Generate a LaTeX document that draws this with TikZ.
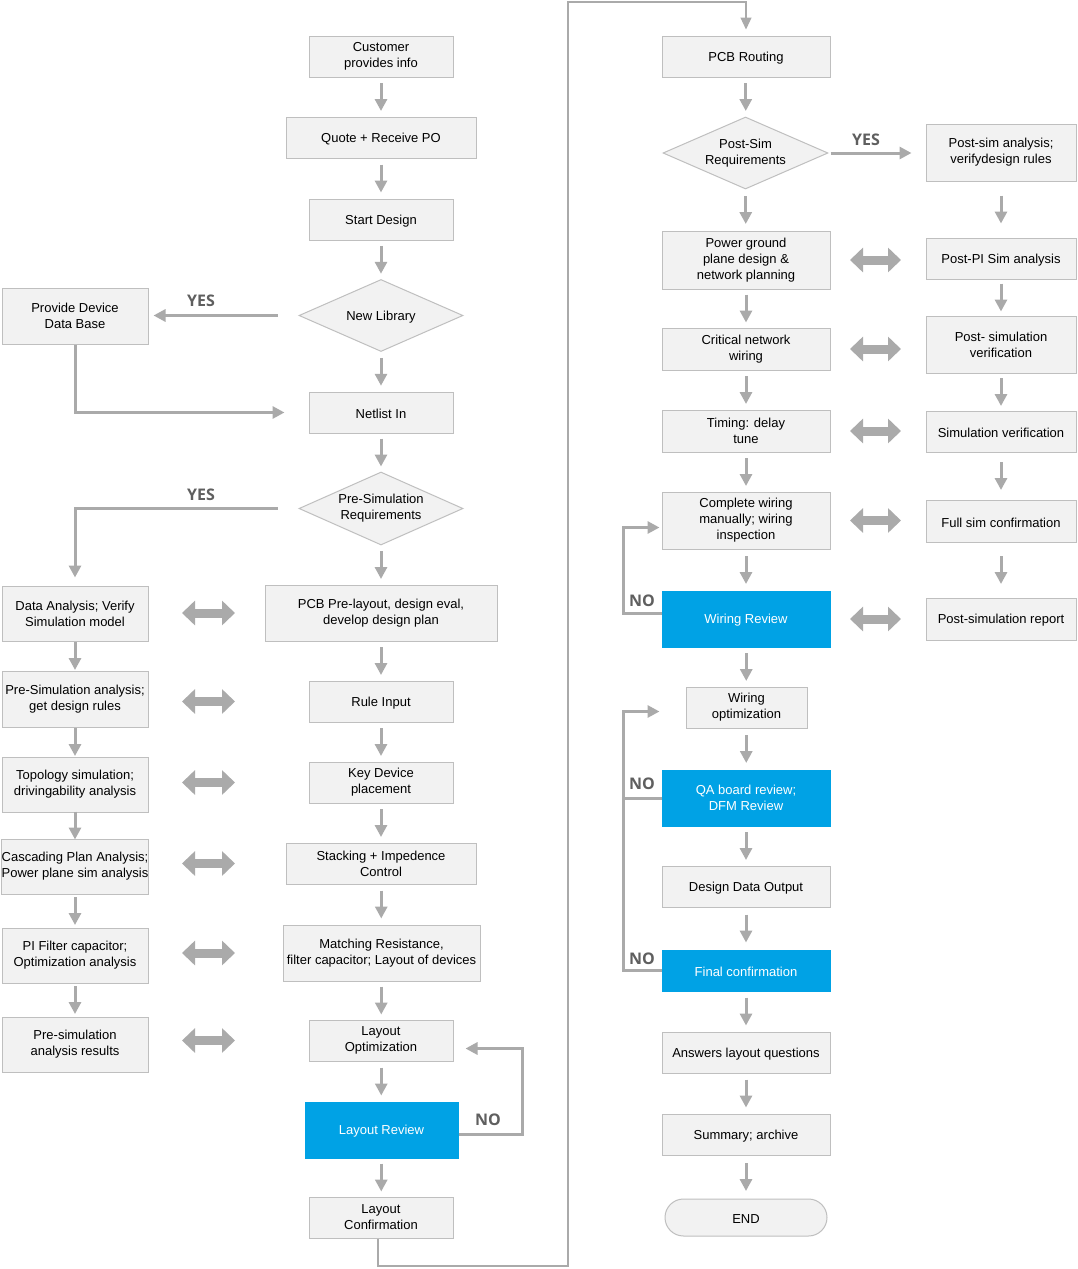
\documentclass[tikz,border=0pt]{standalone}
\usepackage{fontspec}
\setmainfont{Liberation Sans}
\newfontfamily\lblfont{Open Sans}
\usetikzlibrary{arrows.meta,shapes.geometric,calc}
\definecolor{boxfill}{HTML}{F2F2F2}
\definecolor{boxline}{HTML}{BFBFBF}
\definecolor{arrgray}{HTML}{AAAAAA}
\definecolor{blu}{HTML}{00A2E5}
\definecolor{lblgray}{HTML}{5F5F5F}
\tikzset{
 box/.style={draw=boxline, fill=boxfill, line width=1pt, inner sep=0pt, align=center,
   font=\fontsize{13}{16}\selectfont, text=black,
   execute at begin node={\rule{0pt}{12.5pt}}},
 bluebox/.style={box, fill=blu, draw=blu, text=white},
 dia/.style={box, shape=diamond, shape aspect=2.28, minimum width=164pt, minimum height=72pt},
 arr/.style={draw=arrgray, line width=3pt, -{Triangle[width=12pt,length=12pt]}},
 ln/.style={draw=arrgray, line width=3pt},
 dbl/.style={draw=arrgray, line width=9pt, {Triangle[width=24pt,length=13pt]}-{Triangle[width=24pt,length=13pt]}},
 thinarr/.style={draw=arrgray, line width=1.2pt, -{Triangle[width=11pt,length=12pt]}},
 lbl/.style={font=\lblfont\fontsize{16}{16}\bfseries\selectfont, text=lblgray, inner sep=0pt}
}
\newcommand{\vlink}[2]{\draw[arr] ($(#1.south)!.5!(#2.north)+(0,-14)$) -- ($(#1.south)!.5!(#2.north)+(0,14)$);}
\begin{document}
\begin{tikzpicture}[x=1pt,y=-1pt]
\useasboundingbox (0,0) rectangle (1077,1269);
\fill[white] (0,0) rectangle (1077,1269);
% ---------- centre-left column
\node[box, minimum width=144pt, minimum height=41pt] (cust) at (381,56.5) {Customer\\provides info};
\node[box, minimum width=190pt, minimum height=41pt] (quote) at (381,137.5) {Quote + Receive PO};
\node[box, minimum width=144pt, minimum height=41pt] (start) at (381,219.5) {Start Design};
\node[dia] (nl) at (381,315.5) {New Library};
\node[box, minimum width=144pt, minimum height=41pt] (net) at (381,412.5) {Netlist In};
\node[dia, minimum height=73pt] (ps) at (381,508.5) {Pre-Simulation\\Requirements};
\node[box, minimum width=232pt, minimum height=56pt] (pre) at (381,613) {PCB Pre-layout, design eval,\\develop design plan};
\node[box, minimum width=144pt, minimum height=41pt] (rule) at (381,701.5) {Rule Input};
\node[box, minimum width=144pt, minimum height=41pt] (key) at (381,782.5) {Key Device\\placement};
\node[box, minimum width=190pt, minimum height=41pt] (stack) at (381,863.5) {Stacking + Impedence\\Control};
\node[box, minimum width=197pt, minimum height=56pt] (match) at (381.5,953) {Matching Resistance,\\filter capacitor; Layout of devices};
\node[box, minimum width=144pt, minimum height=41pt] (lo) at (381,1040.5) {Layout\\Optimization};
\node[bluebox, minimum width=153pt, minimum height=56pt] (lr) at (381.5,1130) {Layout Review};
\node[box, minimum width=144pt, minimum height=41pt] (lc) at (381,1217.5) {Layout\\Confirmation};
% ---------- far-left column
\node[box, minimum width=146pt, minimum height=56pt] (pdd) at (75,316) {Provide Device\\Data Base};
\node[box, minimum width=146pt, minimum height=55pt] (da) at (75,613.5) {Data Analysis; Verify\\Simulation model};
\node[box, minimum width=146pt, minimum height=56pt] (psa) at (75,699) {Pre-Simulation analysis;\\get design rules};
\node[box, minimum width=146pt, minimum height=55pt] (topo) at (75,784.5) {Topology simulation;\\drivingability analysis};
\node[box, minimum width=146pt, minimum height=55pt] (casc) at (75,866.5) {Cascading Plan Analysis;\\Power plane sim analysis};
\node[box, minimum width=146pt, minimum height=55pt] (pif) at (75,955.5) {PI Filter capacitor;\\Optimization analysis};
\node[box, minimum width=146pt, minimum height=55pt] (psres) at (75,1044.5) {Pre-simulation\\analysis results};
% ---------- centre-right column
\node[box, minimum width=168pt, minimum height=41pt] (pcbr) at (746,56.5) {PCB Routing};
\node[dia, minimum width=165pt] (psq) at (745.5,153) {Post-Sim\\Requirements};
\node[box, minimum width=168pt, minimum height=58pt] (pg) at (746,260) {Power ground\\plane design \&\\network planning};
\node[box, minimum width=168pt, minimum height=42pt] (cn) at (746,349) {Critical network\\wiring};
\node[box, minimum width=168pt, minimum height=42pt] (td) at (746,431) {Timing: delay\\tune};
\node[box, minimum width=168pt, minimum height=57pt] (cw) at (746,520.5) {Complete wiring\\manually; wiring\\inspection};
\node[bluebox, minimum width=168pt, minimum height=56pt] (wr) at (746,619) {Wiring Review};
\node[box, minimum width=121pt, minimum height=41pt] (wo) at (746.5,707.5) {Wiring\\optimization};
\node[bluebox, minimum width=168pt, minimum height=56pt] (qa) at (746,798) {QA board review;\\DFM Review};
\node[box, minimum width=168pt, minimum height=41pt] (ddo) at (746,886.5) {Design Data Output};
\node[bluebox, minimum width=168pt, minimum height=41pt] (fc) at (746,970.5) {Final confirmation};
\node[box, minimum width=168pt, minimum height=41pt] (ans) at (746,1052.5) {Answers layout questions};
\node[box, minimum width=168pt, minimum height=41pt] (sumr) at (746,1134.5) {Summary; archive};
\node[box, minimum width=162pt, minimum height=37pt, rounded corners=18.5pt] (endn) at (746,1217.5) {END};
% ---------- far-right column
\node[box, minimum width=150pt, minimum height=57pt] (pa) at (1001,152.5) {Post-sim analysis;\\verifydesign rules};
\node[box, minimum width=150pt, minimum height=41pt] (ppi) at (1001,258.5) {Post-PI Sim analysis};
\node[box, minimum width=150pt, minimum height=57pt] (psv) at (1001,344.5) {Post- simulation\\verification};
\node[box, minimum width=150pt, minimum height=41pt] (sv) at (1001,431.5) {Simulation verification};
\node[box, minimum width=150pt, minimum height=42pt] (fsc) at (1001,521) {Full sim confirmation};
\node[box, minimum width=150pt, minimum height=42pt] (rep) at (1001,619) {Post-simulation report};
% ---------- vertical arrows
\vlink{cust}{quote} \vlink{quote}{start} \vlink{start}{nl} \vlink{nl}{net} \vlink{net}{ps}
\vlink{ps}{pre} \vlink{pre}{rule} \vlink{rule}{key} \vlink{key}{stack} \vlink{stack}{match}
\vlink{match}{lo} \vlink{lo}{lr} \vlink{lr}{lc}
\vlink{da}{psa} \vlink{psa}{topo} \vlink{topo}{casc} \vlink{casc}{pif} \vlink{pif}{psres}
\vlink{pcbr}{psq} \vlink{psq}{pg} \vlink{pg}{cn} \vlink{cn}{td} \vlink{td}{cw} \vlink{cw}{wr}
\vlink{wr}{wo} \vlink{wo}{qa} \vlink{qa}{ddo} \vlink{ddo}{fc} \vlink{fc}{ans} \vlink{ans}{sumr} \vlink{sumr}{endn}
\vlink{pa}{ppi} \vlink{ppi}{psv} \vlink{psv}{sv} \vlink{sv}{fsc} \vlink{fsc}{rep}
% ---------- double arrows
\coordinate (dl1) at (182,0); \coordinate (dl2) at (235,0);
\foreach \n in {pre,rule,key,stack,match,lo} {\draw[dbl] (\n.west -| dl1) -- (\n.west -| dl2);}
\coordinate (dr1) at (850,0); \coordinate (dr2) at (901,0);
\foreach \n in {pg,cn,td,cw,wr} {\draw[dbl] (\n.east -| dr1) -- (\n.east -| dr2);}
% ---------- YES / NO branches
\draw[arr, shorten <=21pt, shorten >=5pt] (nl.west) -- (pdd.east |- nl.west);
\node[lbl] (yes1) at (201,301) {YES};
\draw[arr, shorten >=24pt] (pdd.south) |- (net.west);
\draw[arr, shorten <=21pt, shorten >=8pt] (ps.west) -| (da.north);
\node[lbl] (yes2) at (201,495) {YES};
\draw[arr, shorten <=2pt, shorten >=14pt] (psq.east) -- (pa.west |- psq.east);
\node[lbl] (yes3) at (866,140) {YES};
\draw[arr, shorten >=12pt] ([yshift=-4pt]lr.east) -- ++(64,0) |- ([yshift=-8pt]lo.east);
\node[lbl] (no1) at (488,1120) {NO};
\coordinate (nox) at (623,0);
\draw[arr, shorten >=2pt] ([yshift=6pt]wr.west) -- ([yshift=6pt]wr.west -| nox) |- ([yshift=-7pt]cw.west);
\node[lbl] (no2) at (642,601) {NO};
\draw[arr, shorten >=26pt] (fc.west) -- (fc.west -| nox) |- ([yshift=-4pt]wo.west);
\draw[ln] (qa.west) -- (qa.west -| nox);
\node[lbl] (no3) at (642,784) {NO};
\node[lbl] (no4) at (642,959) {NO};
% ---------- long return line
\coordinate (loopA) at (568,1266); \coordinate (loopB) at (568,2);
\draw[thinarr, shorten >=6pt] ([xshift=-3pt]lc.south) |- (loopA) -- (loopB) -| (pcbr.north);
\end{tikzpicture}
\end{document}
